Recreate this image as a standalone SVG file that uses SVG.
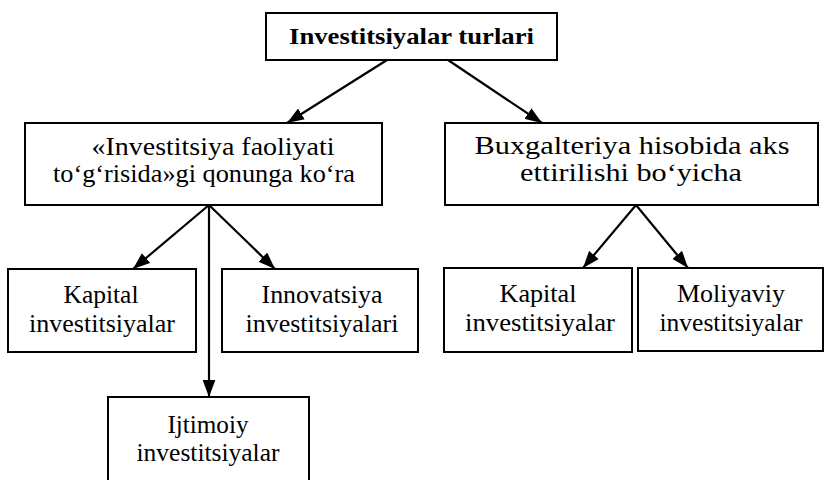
<svg xmlns="http://www.w3.org/2000/svg" width="825" height="480" viewBox="0 0 825 480">
<defs>
<marker id="ah" viewBox="0 0 16 12" refX="16" refY="6" markerWidth="17" markerHeight="13" markerUnits="userSpaceOnUse" orient="auto">
<path d="M0,0 L16,6 L0,12 Z" fill="#000"/>
</marker>
<style>
.box{fill:#fff;stroke:#000;stroke-width:2}
.t{font-family:"Liberation Serif","Times New Roman",serif;font-size:25px;fill:#000;text-anchor:middle}
.b{font-weight:bold;font-size:24px}
.c line{stroke:#000;stroke-width:2.2;marker-end:url(#ah)}
</style>
</defs>
<rect width="825" height="480" fill="#fff"/>
<g class="c" id="connectors">
<line x1="387" y1="60" x2="287" y2="123"/>
<line x1="448" y1="60" x2="542" y2="123"/>
<line x1="209" y1="205" x2="133" y2="269"/>
<line x1="209" y1="205" x2="275" y2="269"/>
<line x1="209" y1="205" x2="209" y2="397"/>
<line x1="636" y1="205" x2="583" y2="268"/>
<line x1="636" y1="205" x2="688" y2="268"/>
</g>
<g id="root">
<rect class="box" x="266" y="13" width="291" height="47"/>
<text class="t b" x="411.5" y="44" textLength="245" lengthAdjust="spacingAndGlyphs">Investitsiyalar turlari</text>
</g>
<g id="law">
<rect class="box" x="25" y="123" width="357" height="82"/>
<text class="t" x="213" y="155" textLength="243" lengthAdjust="spacingAndGlyphs">«Investitsiya faoliyati</text>
<text class="t" x="204" y="182" textLength="302" lengthAdjust="spacingAndGlyphs">to‘g‘risida»gi qonunga ko‘ra</text>
</g>
<g id="accounting">
<rect class="box" x="445" y="123" width="373" height="82"/>
<text class="t" x="632" y="154" textLength="315" lengthAdjust="spacingAndGlyphs">Buxgalteriya hisobida aks</text>
<text class="t" x="631" y="181" textLength="222" lengthAdjust="spacingAndGlyphs">ettirilishi bo‘yicha</text>
</g>
<g id="kapital1">
<rect class="box" x="8" y="269" width="188" height="83"/>
<text class="t" x="101" y="303" textLength="75" lengthAdjust="spacingAndGlyphs">Kapital</text>
<text class="t" x="102" y="332" textLength="146" lengthAdjust="spacingAndGlyphs">investitsiyalar</text>
</g>
<g id="innovatsiya">
<rect class="box" x="222" y="269" width="196" height="83"/>
<text class="t" x="322" y="303" textLength="121" lengthAdjust="spacingAndGlyphs">Innovatsiya</text>
<text class="t" x="322" y="332" textLength="153" lengthAdjust="spacingAndGlyphs">investitsiyalari</text>
</g>
<g id="ijtimoiy">
<rect class="box" x="108" y="397" width="201" height="90"/>
<text class="t" x="208" y="433" textLength="81" lengthAdjust="spacingAndGlyphs">Ijtimoiy</text>
<text class="t" x="208" y="461" textLength="143" lengthAdjust="spacingAndGlyphs">investitsiyalar</text>
</g>
<g id="kapital2">
<rect class="box" x="444" y="268" width="188" height="84"/>
<text class="t" x="538" y="302" textLength="77" lengthAdjust="spacingAndGlyphs">Kapital</text>
<text class="t" x="540" y="331" textLength="150" lengthAdjust="spacingAndGlyphs">investitsiyalar</text>
</g>
<g id="moliyaviy">
<rect class="box" x="638" y="268" width="185" height="83"/>
<text class="t" x="731" y="302" textLength="108" lengthAdjust="spacingAndGlyphs">Moliyaviy</text>
<text class="t" x="731" y="331" textLength="143" lengthAdjust="spacingAndGlyphs">investitsiyalar</text>
</g>
</svg>
